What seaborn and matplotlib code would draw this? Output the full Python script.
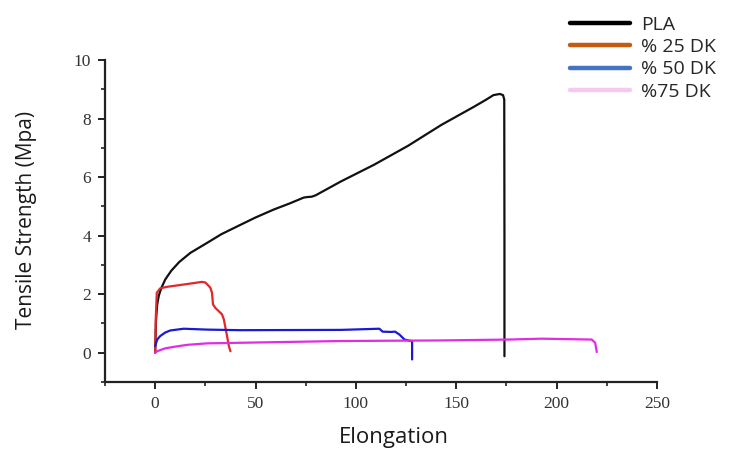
import numpy as np
import pandas as pd
import matplotlib
matplotlib.use("Agg")
import matplotlib.pyplot as plt
from matplotlib.lines import Line2D
from matplotlib.ticker import MultipleLocator
import seaborn as sns

# ---- data ----
pla_x = [0, 0.4, 1.0, 1.8, 3.0, 5.0, 8.0, 12.0, 17.5, 25.8, 33.0, 42.5, 50.0, 59, 67, 74, 76, 78, 80, 92.5, 109, 126, 142.5, 159, 165, 168.5, 171.7, 173.3, 173.9, 174.0, 174.0]
pla_y = [0, 1.1, 1.65, 1.95, 2.2, 2.5, 2.8, 3.1, 3.41, 3.75, 4.05, 4.37, 4.62, 4.89, 5.1, 5.3, 5.32, 5.33, 5.38, 5.85, 6.42, 7.07, 7.78, 8.41, 8.65, 8.8, 8.84, 8.8, 8.65, 4.0, -0.12]

dk25_x = [0, 0.3, 0.8, 2.5, 5.8, 14.2, 23.3, 25.0, 27.5, 28.3, 28.8, 30.0, 33.3, 34.2, 35.5, 36.7, 37.5]
dk25_y = [0.05, 1.2, 2.05, 2.2, 2.25, 2.33, 2.42, 2.40, 2.22, 2.05, 1.65, 1.53, 1.31, 1.14, 0.68, 0.23, 0.05]

dk50_x = [0, 1.0, 2.5, 5.0, 7.5, 14.2, 25.8, 42.5, 92.5, 111.7, 113.3, 117.5, 119.5, 121.7, 124.2, 127.5, 128.0, 128.0]
dk50_y = [0.23, 0.45, 0.57, 0.69, 0.76, 0.82, 0.79, 0.77, 0.78, 0.82, 0.72, 0.71, 0.72, 0.62, 0.45, 0.40, 0.40, -0.23]

dk75_x = [0, 1.0, 2.5, 5.0, 9.2, 16.0, 25.8, 59, 92.5, 142.5, 176, 192.5, 217.5, 219.2, 220.0]
dk75_y = [0.0, 0.05, 0.09, 0.15, 0.20, 0.27, 0.32, 0.36, 0.40, 0.42, 0.45, 0.48, 0.45, 0.34, 0.02]

series_names = ["PLA", "% 25 DK", "% 50 DK", "%75 DK"]
line_colors = ["#111111", "#e3262a", "#1a1ad0", "#e22be2"]
legend_colors = ["#000000", "#c55a11", "#4472c4", "#f6c9ef"]

x_ticks = [0, 50, 100, 150, 200, 250]
y_ticks = [0, 2, 4, 6, 8, 10]

frames = []
for name, xs, ys in zip(series_names, [pla_x, dk25_x, dk50_x, dk75_x], [pla_y, dk25_y, dk50_y, dk75_y]):
    frames.append(pd.DataFrame({"Elongation": xs, "Strength": ys, "Sample": name}))
df = pd.concat(frames, ignore_index=True)

sns.set_theme(style="ticks")
plt.rcParams["font.family"] = ["DejaVu Sans"]

fig = plt.figure(figsize=(7.38, 4.51), dpi=100)
ax = fig.add_axes([105 / 738, 1 - 382 / 451, 552 / 738, 322 / 451])

sns.lineplot(data=df, x="Elongation", y="Strength", hue="Sample", units="Sample",
             estimator=None, sort=False, palette=dict(zip(series_names, line_colors)),
             hue_order=series_names, linewidth=1.6, legend=False, ax=ax)

ax.set_xlim(-25, 250)
ax.set_ylim(-1, 10)
ax.set_xticks(x_ticks)
ax.set_yticks(y_ticks)
ax.xaxis.set_minor_locator(MultipleLocator(25))
ax.yaxis.set_minor_locator(MultipleLocator(1))
ax.tick_params(axis="both", which="major", direction="out", length=5, width=1.4, color="#222222", pad=5)
ax.tick_params(axis="both", which="minor", direction="out", length=3, width=1.2, color="#222222")
for lab in ax.get_xticklabels() + ax.get_yticklabels():
    lab.set_family("Liberation Serif")
    lab.set_fontsize(12.5)
    lab.set_color("#333333")
sns.despine(ax=ax)
for s in ["left", "bottom"]:
    ax.spines[s].set_linewidth(1.6)
    ax.spines[s].set_color("#222222")

ax.set_xlabel("")
ax.set_ylabel("")
fig.text(394 / 738, 1 - 438 / 451, "Elongation", ha="center", va="center",
         fontsize=16, family="Open Sans", color="#1a1a1a")
fig.text(27 / 738, 1 - 220 / 451, "Tensile Strength (Mpa)", ha="center", va="center",
         rotation=90, fontsize=15, family="Open Sans", color="#1a1a1a")

handles = [Line2D([0], [0], color=c, lw=3.2) for c in legend_colors]
fig.legend(handles, series_names, loc="upper left", bbox_to_anchor=(562 / 738, 1 - 8 / 451),
           frameon=False, handlelength=3.1, handletextpad=0.55, labelspacing=0.22,
           prop={"family": "Open Sans", "size": 14}, borderaxespad=0)

fig.savefig("out.png", dpi=100)
